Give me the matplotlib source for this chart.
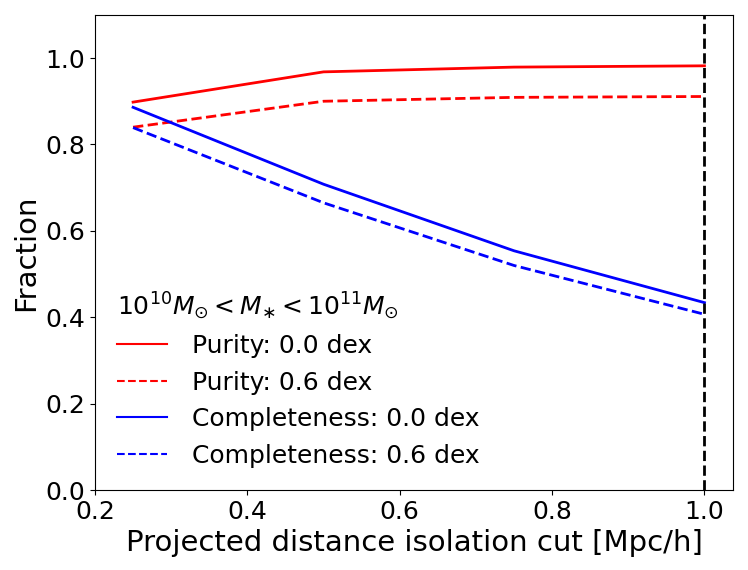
import matplotlib
matplotlib.use("Agg")
import matplotlib.pyplot as plt

# isolation cut in Mpc/h
cuts = [0.25, 0.5, 0.75, 1.0]

purity_00 = [0.898, 0.968, 0.979, 0.982]
purity_06 = [0.840, 0.900, 0.909, 0.911]
compl_00 = [0.886, 0.708, 0.554, 0.434]
compl_06 = [0.839, 0.665, 0.520, 0.407]

fig, ax = plt.subplots(figsize=(7.48, 5.7), dpi=100)

ax.plot(cuts, purity_00, color="red", lw=2, label="Purity: 0.0 dex")
ax.plot(cuts, purity_06, color="red", lw=2, ls="--", label="Purity: 0.6 dex")
ax.plot(cuts, compl_00, color="blue", lw=2, label="Completeness: 0.0 dex")
ax.plot(cuts, compl_06, color="blue", lw=2, ls="--", label="Completeness: 0.6 dex")
ax.axvline(1.0, color="black", ls="--", lw=2)

ax.set_xlim(0.2, 1.0375)
ax.set_ylim(0, 1.1)
ax.set_xticks([0.2, 0.4, 0.6, 0.8, 1.0])
ax.set_xlabel("Projected distance isolation cut [Mpc/h]", fontsize=21)
ax.set_ylabel("Fraction", fontsize=21)
ax.tick_params(labelsize=18)

leg = ax.legend(title=r"$10^{10}M_{\odot} < M_{\ast} < 10^{11}M_{\odot}$",
                fontsize=18, title_fontsize=18, frameon=False, loc="lower left",
                handletextpad=1.0)
leg._legend_box.align = "left"
for h in leg.get_lines():
    h.set_linewidth(1.5)

fig.subplots_adjust(left=0.127, right=0.98, top=0.974, bottom=0.14)
fig.savefig("out.png")
